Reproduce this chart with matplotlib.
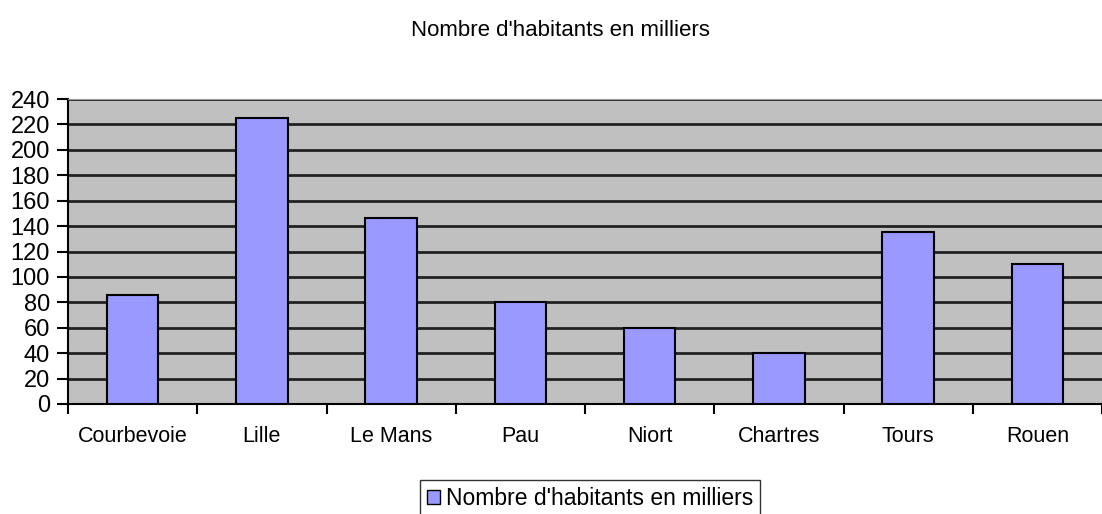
import numpy as np
import matplotlib.pyplot as plt
from matplotlib.patches import Patch

# Données
villes = ['Courbevoie', 'Lille', 'Le Mans', 'Pau', 'Niort', 'Chartres', 'Tours', 'Rouen']
habitants = [86, 225, 146, 80, 60, 40, 135, 110]
graduations = list(range(0, 241, 20))
titre = "Nombre d'habitants en milliers"

plt.rcParams['font.family'] = ['Liberation Sans', 'DejaVu Sans']

fig = plt.figure(figsize=(11.02, 5.14), dpi=100)
ax = fig.add_axes([68 / 1102, 1 - 404 / 514, 1 - 68 / 1102, 305 / 514])

x = np.arange(len(villes))
ax.bar(x, habitants, width=0.40, color='#9999FF', edgecolor='black', linewidth=1.5, zorder=3)

# Fond gris et grille
ax.set_facecolor('#C0C0C0')
ax.set_ylim(0, 240)
ax.set_xlim(-0.5, -0.5 + (1102 - 68) / 131)
ax.set_yticks(graduations)
ax.set_yticklabels([str(g) for g in graduations], fontsize=17)
ax.yaxis.grid(True, color='#222222', linewidth=2)
ax.set_axisbelow(True)

# Graduations x aux séparations des catégories
ax.set_xticks(np.arange(len(villes) + 1) - 0.5)
ax.set_xticklabels([])
ax.set_xticks(x, minor=True)
ax.set_xticklabels(villes, minor=True, fontsize=15.5)
ax.tick_params(axis='x', which='minor', length=0, pad=16)
ax.tick_params(axis='x', which='major', length=7, width=1.5, direction='out')
ax.tick_params(axis='y', length=8, width=1.5, direction='out', pad=5)

ax.spines['left'].set_linewidth(1.5)
ax.spines['bottom'].set_linewidth(1.5)
ax.spines['top'].set_color('#999999')
ax.spines['right'].set_visible(False)

fig.text(560 / 1102, 1 - 30 / 514, titre, ha='center', va='center', fontsize=16)

poignee = Patch(facecolor='#9999FF', edgecolor='black', label=titre)
fig.legend(handles=[poignee], loc='upper center', bbox_to_anchor=(590 / 1102, 1 - 480 / 514),
           fontsize=16.5, frameon=True, fancybox=False, edgecolor='black',
           handlelength=0.6, handleheight=0.6, handletextpad=0.25, borderpad=0.3,
           borderaxespad=0)

fig.savefig('out.png', dpi=100)
